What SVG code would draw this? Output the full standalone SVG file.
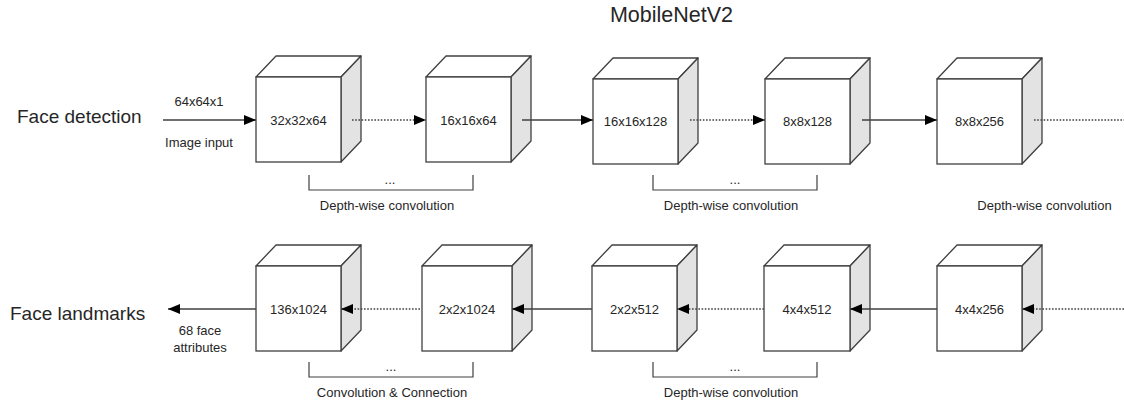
<svg xmlns="http://www.w3.org/2000/svg" width="1124" height="404" viewBox="0 0 1124 404">
<style>
text{font-family:"Liberation Sans",Arial,sans-serif;fill:#262626}
.front{fill:#fff;stroke:#404040;stroke-width:1.3}
.top{fill:#fff;stroke:#404040;stroke-width:1.3;stroke-linejoin:round}
.side{fill:#e3e3e3;stroke:#404040;stroke-width:1.3;stroke-linejoin:round}
.lbl{font-size:13px;text-anchor:middle}
.sm{font-size:13px;text-anchor:middle}
.solid{stroke:#404040;stroke-width:1.3;fill:none}
.dot{stroke:#404040;stroke-width:1.6;fill:none;stroke-dasharray:1.6 1.6}
.br{stroke:#404040;stroke-width:1.2;fill:none}
.row{font-size:19px}
</style>
<defs>
<marker id="ah" viewBox="0 0 12 10" refX="12" refY="5" markerWidth="12" markerHeight="10" markerUnits="userSpaceOnUse" orient="auto">
<path d="M0,0 L12,5 L0,10 Z" fill="#000"/>
</marker>
</defs>

<text x="671.5" y="22" font-size="21.5" text-anchor="middle">MobileNetV2</text>
<text class="row" x="17" y="123">Face detection</text>
<text class="row" x="10" y="320">Face landmarks</text>

<text class="sm" x="199" y="106">64x64x1</text>
<text class="sm" x="199" y="147">Image input</text>
<text class="sm" x="200" y="335">68 face</text>
<text class="sm" x="200" y="352">attributes</text>

<g id="cube-t1">
<polygon class="top" points="256,77 276,56 361,56 341,77"/>
<polygon class="side" points="341,77 361,56 361,141 341,162"/>
<rect class="front" x="256" y="77" width="85" height="85"/>
<text class="lbl" x="298.5" y="125">32x32x64</text>
</g>
<g id="cube-t2">
<polygon class="top" points="426,77 446,56 531,56 511,77"/>
<polygon class="side" points="511,77 531,56 531,141 511,162"/>
<rect class="front" x="426" y="77" width="85" height="85"/>
<text class="lbl" x="468.5" y="125">16x16x64</text>
</g>
<g id="cube-t3">
<polygon class="top" points="593,79 613,58 698,58 678,79"/>
<polygon class="side" points="678,79 698,58 698,143 678,164"/>
<rect class="front" x="593" y="79" width="85" height="85"/>
<text class="lbl" x="635.5" y="126">16x16x128</text>
</g>
<g id="cube-t4">
<polygon class="top" points="765,79 785,58 870,58 850,79"/>
<polygon class="side" points="850,79 870,58 870,143 850,164"/>
<rect class="front" x="765" y="79" width="85" height="85"/>
<text class="lbl" x="807.5" y="126">8x8x128</text>
</g>
<g id="cube-t5">
<polygon class="top" points="937,79 957,58 1042,58 1022,79"/>
<polygon class="side" points="1022,79 1042,58 1042,143 1022,164"/>
<rect class="front" x="937" y="79" width="85" height="85"/>
<text class="lbl" x="979.5" y="126">8x8x256</text>
</g>

<g id="cube-b1">
<polygon class="top" points="256,266 276,245 361,245 341,266"/>
<polygon class="side" points="341,266 361,245 361,330 341,351"/>
<rect class="front" x="256" y="266" width="85" height="85"/>
<text class="lbl" x="298.5" y="314">136x1024</text>
</g>
<g id="cube-b2">
<polygon class="top" points="422,266 442,245 532,245 512,266"/>
<polygon class="side" points="512,266 532,245 532,330 512,351"/>
<rect class="front" x="422" y="266" width="90" height="85"/>
<text class="lbl" x="467" y="314">2x2x1024</text>
</g>
<g id="cube-b3">
<polygon class="top" points="592,266 612,245 697,245 677,266"/>
<polygon class="side" points="677,266 697,245 697,330 677,351"/>
<rect class="front" x="592" y="266" width="85" height="85"/>
<text class="lbl" x="634.5" y="314">2x2x512</text>
</g>
<g id="cube-b4">
<polygon class="top" points="764,266 784,245 870,245 850,266"/>
<polygon class="side" points="850,266 870,245 870,330 850,351"/>
<rect class="front" x="764" y="266" width="86" height="85"/>
<text class="lbl" x="807" y="314">4x4x512</text>
</g>
<g id="cube-b5">
<polygon class="top" points="937,266 957,245 1042,245 1022,266"/>
<polygon class="side" points="1022,266 1042,245 1042,330 1022,351"/>
<rect class="front" x="937" y="266" width="85" height="85"/>
<text class="lbl" x="979.5" y="314">4x4x256</text>
</g>

<g id="connectors">
<line class="solid" x1="163" y1="120" x2="256" y2="120" marker-end="url(#ah)"/>
<line class="dot" x1="352" y1="120" x2="426" y2="120" marker-end="url(#ah)"/>
<line class="solid" x1="522" y1="120" x2="593" y2="120" marker-end="url(#ah)"/>
<line class="dot" x1="690" y1="120" x2="765" y2="120" marker-end="url(#ah)"/>
<line class="solid" x1="862" y1="120" x2="937" y2="120" marker-end="url(#ah)"/>
<line class="dot" x1="1034" y1="120" x2="1124" y2="120"/>

<line class="solid" x1="256" y1="309" x2="168" y2="309" marker-end="url(#ah)"/>
<line class="dot" x1="420" y1="309" x2="341" y2="309" marker-end="url(#ah)"/>
<line class="solid" x1="592" y1="309" x2="512" y2="309" marker-end="url(#ah)"/>
<line class="dot" x1="764" y1="309" x2="677" y2="309" marker-end="url(#ah)"/>
<line class="solid" x1="937" y1="309" x2="850" y2="309" marker-end="url(#ah)"/>
<line class="dot" x1="1124" y1="309" x2="1022" y2="309" marker-end="url(#ah)"/>
</g>

<g id="brackets">
<polyline class="br" points="309,175 309,190 473,190 473,175"/>
<text class="sm" x="390" y="184">...</text>
<text class="sm" x="387" y="210">Depth-wise convolution</text>
<polyline class="br" points="653,175 653,190 817,190 817,175"/>
<text class="sm" x="735" y="184">...</text>
<text class="sm" x="731" y="210">Depth-wise convolution</text>
<text class="sm" x="1044.5" y="210">Depth-wise convolution</text>

<polyline class="br" points="309,362 309,377 473,377 473,362"/>
<text class="sm" x="391" y="371">...</text>
<text class="sm" x="392" y="397">Convolution &amp; Connection</text>
<polyline class="br" points="653,362 653,377 817,377 817,362"/>
<text class="sm" x="735" y="371">...</text>
<text class="sm" x="731" y="397">Depth-wise convolution</text>
</g>
</svg>
